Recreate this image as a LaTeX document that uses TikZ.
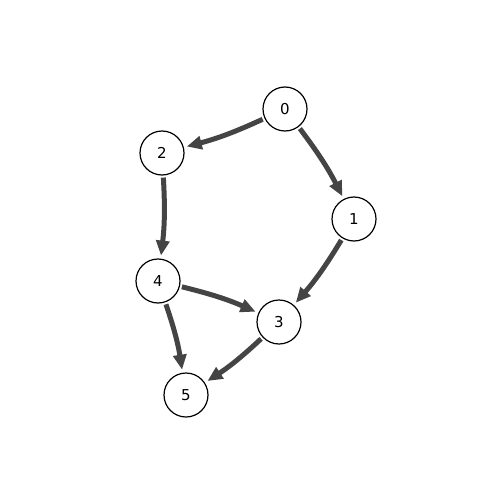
\documentclass[tikz,border=0pt]{standalone}
\usepackage{fontspec}
\setmainfont{DejaVu Sans}
\usetikzlibrary{arrows.meta}
\definecolor{edgegray}{HTML}{444444}
\begin{document}
\begin{tikzpicture}[x=1pt,y=-1pt,
  vert/.style={circle,draw=black,line width=1.2pt,fill=white,minimum size=44pt,inner sep=0pt,font=\fontsize{15}{15}\selectfont},
  edge/.style={draw=edgegray,line width=5pt,bend left=5,shorten <=2pt,shorten >=3pt,
    -{Triangle[length=15pt,width=13pt]}}]
\useasboundingbox (0,0) rectangle (500,500);
\fill[white] (0,0) rectangle (500,500);
\node[vert] (n0) at (285,109) {0};
\node[vert] (n2) at (162,153) {2};
\node[vert] (n1) at (354,219) {1};
\node[vert] (n4) at (158,281) {4};
\node[vert] (n3) at (279,322) {3};
\node[vert] (n5) at (186,395) {5};
\path[edge] (n0) to (n2);
\path[edge] (n0) to (n1);
\path[edge] (n2) to (n4);
\path[edge] (n1) to (n3);
\path[edge] (n4) to (n3);
\path[edge] (n4) to (n5);
\path[edge] (n3) to (n5);
\end{tikzpicture}
\end{document}
